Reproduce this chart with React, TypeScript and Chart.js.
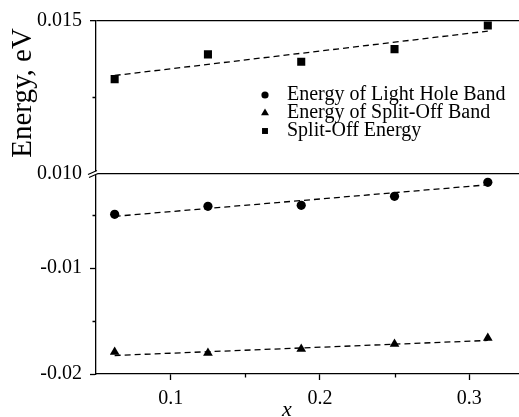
import React, { useEffect, useRef } from 'react';
import { Chart, registerables } from 'chart.js';

Chart.register(...registerables);

const xValues = [0.0625, 0.125, 0.1875, 0.25, 0.3125];
const lightHole = [-0.00491, -0.00415, -0.00406, -0.00321, -0.00189];
const splitOffBand = [-0.01792, -0.01802, -0.01764, -0.01717, -0.0166];
const splitOffEnergy = [0.0131, 0.01391, 0.01367, 0.01408, 0.01485];

const fitX = [0.0625, 0.3125];
const lightHoleFit = [-0.0051, -0.00212];
const splitOffBandFit = [-0.01825, -0.01683];
const splitOffEnergyFit = [0.01322, 0.01467];

const seriesLabels = ['Energy of Light Hole Band', 'Energy of Split-Off Band', 'Split-Off Energy'];

const xTicks = [0.1, 0.15, 0.2, 0.25, 0.3];
const xTickLabels = ['0.1', '', '0.2', '', '0.3'];
const yTopTicks = [0.01, 0.0125, 0.015];
const yTopTickLabels = ['0.010', '', '0.015'];
const yBotTicks = [-0.02, -0.015, -0.01, -0.005];
const yBotTickLabels = ['-0.02', '', '-0.01', ''];

const xTitle = 'x';
const yTitle = 'Energy, eV';

const FONT = "'Liberation Serif', 'Times New Roman', serif";

const pts = (xs: number[], ys: number[]) => xs.map((x, i) => ({ x, y: ys[i] }));

function drawMarker(ctx: CanvasRenderingContext2D, style: string, r: number, x: number, y: number) {
  ctx.beginPath();
  if (style === 'circle') {
    ctx.arc(x, y, r, 0, Math.PI * 2);
  } else if (style === 'triangle') {
    let rad = 0;
    ctx.moveTo(x + Math.sin(rad) * r, y - Math.cos(rad) * r);
    rad += (2 * Math.PI) / 3;
    ctx.lineTo(x + Math.sin(rad) * r, y - Math.cos(rad) * r);
    rad += (2 * Math.PI) / 3;
    ctx.lineTo(x + Math.sin(rad) * r, y - Math.cos(rad) * r);
    ctx.closePath();
  } else {
    const s = Math.SQRT1_2 * r;
    ctx.rect(x - s, y - s, 2 * s, 2 * s);
  }
  ctx.fill();
}

const MINOR_LEN = 3.5;

const decorPlugin = {
  id: 'decor',
  afterDraw(chart: any) {
    const ctx = chart.ctx;
    const area = chart.chartArea;
    const { x: xs, yTop, yBot } = chart.scales;
    ctx.save();

    // minor ticks (shorter)
    ctx.strokeStyle = '#000';
    ctx.lineWidth = 1.3;
    ctx.beginPath();
    xTicks.forEach((v, i) => {
      if (xTickLabels[i] === '') {
        const px = Math.round(xs.getPixelForValue(v)) + 0.5;
        ctx.moveTo(px, area.bottom);
        ctx.lineTo(px, area.bottom + MINOR_LEN);
      }
    });
    yTopTicks.forEach((v, i) => {
      if (yTopTickLabels[i] === '') {
        const py = Math.round(yTop.getPixelForValue(v)) + 0.5;
        ctx.moveTo(area.left, py);
        ctx.lineTo(area.left - MINOR_LEN, py);
      }
    });
    yBotTicks.forEach((v, i) => {
      if (yBotTickLabels[i] === '') {
        const py = Math.round(yBot.getPixelForValue(v)) + 0.5;
        ctx.moveTo(area.left, py);
        ctx.lineTo(area.left - MINOR_LEN, py);
      }
    });
    ctx.stroke();

    // break mark
    const bx = area.left;
    const by = yTop.getPixelForValue(yTopTicks[0]);
    ctx.fillStyle = '#fff';
    ctx.beginPath();
    ctx.moveTo(bx - 8, by + 0.5);
    ctx.lineTo(bx + 1, by - 3.5);
    ctx.lineTo(bx + 2, by);
    ctx.lineTo(bx - 7, by + 3.5);
    ctx.closePath();
    ctx.fill();
    ctx.lineWidth = 1.2;
    ctx.beginPath();
    ctx.moveTo(bx - 8, by + 0.5);
    ctx.lineTo(bx + 1, by - 3.5);
    ctx.moveTo(bx - 7, by + 3.5);
    ctx.lineTo(bx + 2, by - 0.5);
    ctx.stroke();

    // y title
    ctx.fillStyle = '#000';
    ctx.font = `29px ${FONT}`;
    ctx.textAlign = 'center';
    ctx.textBaseline = 'middle';
    ctx.save();
    ctx.translate(23, 93);
    ctx.rotate(-Math.PI / 2);
    ctx.fillText(yTitle, 0, 0);
    ctx.restore();

    // x title
    ctx.font = `italic 22px ${FONT}`;
    ctx.textBaseline = 'alphabetic';
    ctx.fillText(xTitle, 287, 416);

    // legend
    const styles = ['circle', 'triangle', 'rect'];
    const radii = [3.6, 4.6, 4.2];
    ctx.font = `20px ${FONT}`;
    ctx.textAlign = 'left';
    ctx.textBaseline = 'middle';
    seriesLabels.forEach((label, i) => {
      const y = 95 + i * 18;
      ctx.fillStyle = '#000';
      drawMarker(ctx, styles[i], radii[i], 265, y);
      ctx.fillText(label, 287, y);
    });
    ctx.restore();
  },
};

export default function App() {
  const canvasRef = useRef<HTMLCanvasElement | null>(null);

  useEffect(() => {
    if (!canvasRef.current) return;
    const black = '#000';
    const clear = 'rgba(0,0,0,0)';
    const markerBase = {
      backgroundColor: black,
      borderColor: black,
      borderWidth: 0,
      showLine: false,
    };
    const fitBase = {
      showLine: true,
      borderColor: black,
      borderWidth: 1.3,
      borderDash: [6, 4],
      pointRadius: 0,
      pointHoverRadius: 0,
      fill: false,
    };
    const chart = new Chart(canvasRef.current, {
      type: 'scatter',
      data: {
        datasets: [
          { ...fitBase, label: 'fit1', data: pts(fitX, lightHoleFit), yAxisID: 'yBot' },
          { ...fitBase, label: 'fit2', data: pts(fitX, splitOffBandFit), yAxisID: 'yBot' },
          { ...fitBase, label: 'fit3', data: pts(fitX, splitOffEnergyFit), yAxisID: 'yTop' },
          { ...markerBase, label: seriesLabels[0], data: pts(xValues, lightHole), yAxisID: 'yBot', pointStyle: 'circle', pointRadius: 4.6 },
          { ...markerBase, label: seriesLabels[1], data: pts(xValues, splitOffBand), yAxisID: 'yBot', pointStyle: 'triangle', pointRadius: 5.6 },
          { ...markerBase, label: seriesLabels[2], data: pts(xValues, splitOffEnergy), yAxisID: 'yTop', pointStyle: 'rect', pointRadius: 5.7 },
        ],
      } as any,
      options: {
        animation: false,
        responsive: false,
        maintainAspectRatio: false,
        events: [],
        layout: { padding: { top: 21, right: 0, left: 0, bottom: 0 } },
        plugins: {
          legend: { display: false },
          tooltip: { enabled: false },
        },
        scales: {
          x: {
            type: 'linear',
            min: 0.05,
            max: 0.3336,
            afterBuildTicks: (s: any) => {
              s.ticks = xTicks.map((v) => ({ value: v }));
            },
            afterFit: (s: any) => {
              s.height = 43;
              s.paddingLeft = 0;
              s.paddingRight = 0;
            },
            ticks: {
              callback: (_v: any, i: number) => xTickLabels[i],
              font: { family: FONT, size: 20 },
              color: black,
              padding: 7,
              maxRotation: 0,
              autoSkip: false,
            },
            grid: {
              drawOnChartArea: false,
              drawTicks: true,
              tickLength: 6,
              tickWidth: 1.3,
              tickColor: (c: any) => (xTickLabels[c.index] ? black : clear),
            },
            border: { display: true, color: black, width: 1.3 },
          },
          yBot: {
            type: 'linear',
            position: 'left',
            stack: 'y',
            stackWeight: 200,
            weight: 0,
            min: -0.02,
            max: -0.0011,
            afterBuildTicks: (s: any) => {
              s.ticks = yBotTicks.map((v) => ({ value: v }));
            },
            afterFit: (s: any) => {
              s.width = 96;
            },
            ticks: {
              callback: (_v: any, i: number) => yBotTickLabels[i],
              font: { family: FONT, size: 20 },
              color: black,
              padding: 8,
              autoSkip: false,
            },
            grid: {
              drawOnChartArea: false,
              drawTicks: true,
              tickLength: 6,
              tickWidth: 1.3,
              tickColor: (c: any) => (yBotTickLabels[c.index] ? black : clear),
            },
            border: { display: true, color: black, width: 1.3 },
          },
          yTop: {
            type: 'linear',
            position: 'left',
            stack: 'y',
            stackWeight: 153,
            weight: 1,
            min: 0.01,
            max: 0.015,
            afterBuildTicks: (s: any) => {
              s.ticks = yTopTicks.map((v) => ({ value: v }));
            },
            afterFit: (s: any) => {
              s.width = 96;
            },
            ticks: {
              callback: (_v: any, i: number) => yTopTickLabels[i],
              font: { family: FONT, size: 20 },
              color: black,
              padding: 8,
              autoSkip: false,
            },
            grid: {
              drawOnChartArea: true,
              drawTicks: true,
              tickLength: 6,
              tickWidth: 1.3,
              lineWidth: 1.3,
              tickColor: (c: any) => (yTopTickLabels[c.index] ? black : clear),
              color: (c: any) => (c.index === 0 || c.index === yTopTicks.length - 1 ? black : clear),
            },
            border: { display: true, color: black, width: 1.3 },
          },
        },
      } as any,
      plugins: [decorPlugin],
    });
    return () => chart.destroy();
  }, []);

  return (
    <div style={{ position: 'absolute', left: 0, top: 0, width: 519, height: 417, overflow: 'hidden', background: '#fff' }}>
      <canvas ref={canvasRef} width={525} height={417} style={{ display: 'block', width: 525, height: 417 }} />
    </div>
  );
}
